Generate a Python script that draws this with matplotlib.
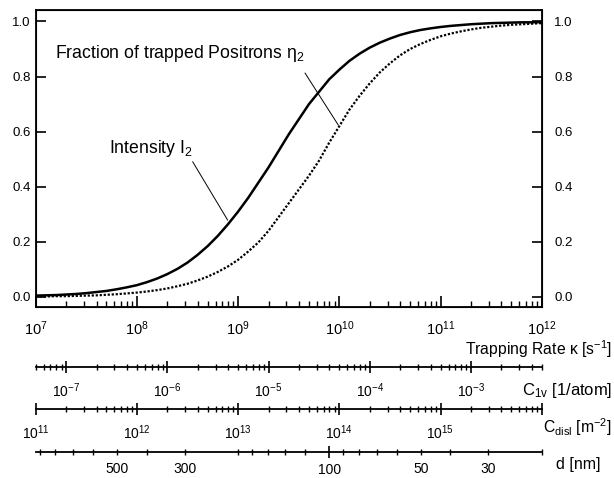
import matplotlib
matplotlib.use("Agg")
import matplotlib.pyplot as plt
import numpy as np
from matplotlib.ticker import FixedLocator, LogLocator, NullFormatter, FixedFormatter

plt.rcParams['font.family'] = ['Liberation Sans', 'DejaVu Sans']
plt.rcParams['mathtext.fontset'] = 'custom'
plt.rcParams['mathtext.rm'] = 'Liberation Sans'
plt.rcParams['mathtext.it'] = 'Liberation Sans:italic'

# log10 of trapping rate kappa [1/s]
log_kappa = [7.0, 7.1, 7.2, 7.3, 7.4, 7.5, 7.6, 7.7, 7.8, 7.9,
             8.0, 8.1, 8.2, 8.3, 8.4, 8.5, 8.6, 8.7, 8.8, 8.9,
             9.0, 9.1, 9.2, 9.3, 9.4, 9.5, 9.6, 9.7, 9.8, 9.9,
             10.0, 10.1, 10.2, 10.3, 10.4, 10.5, 10.6, 10.7, 10.8, 10.9,
             11.0, 11.1, 11.2, 11.3, 11.4, 11.5, 11.6, 11.7, 11.8, 11.9, 12.0]
# intensity I2 (solid)
intensity = [0.005, 0.006, 0.007, 0.009, 0.011, 0.014, 0.018, 0.022, 0.028, 0.035,
             0.043, 0.054, 0.067, 0.083, 0.102, 0.125, 0.153, 0.185, 0.222, 0.264,
             0.31, 0.36, 0.415, 0.47, 0.53, 0.59, 0.645, 0.70, 0.745, 0.79,
             0.825, 0.857, 0.883, 0.905, 0.923, 0.938, 0.951, 0.961, 0.969, 0.975,
             0.980, 0.984, 0.987, 0.990, 0.992, 0.994, 0.995, 0.996, 0.997, 0.997, 0.998]
# fraction of trapped positrons eta2 (dotted)
fraction = [0.002, 0.002, 0.003, 0.003, 0.004, 0.005, 0.006, 0.008, 0.010, 0.013,
            0.016, 0.020, 0.025, 0.031, 0.039, 0.048, 0.060, 0.074, 0.091, 0.111,
            0.135, 0.165, 0.198, 0.240, 0.29, 0.34, 0.39, 0.44, 0.495, 0.56,
            0.62, 0.68, 0.73, 0.775, 0.815, 0.848, 0.877, 0.90, 0.918, 0.933,
            0.946, 0.956, 0.964, 0.971, 0.977, 0.981, 0.985, 0.988, 0.990, 0.992, 0.994]

kappa_ticks = [1e7, 1e8, 1e9, 1e10, 1e11, 1e12]
kappa_labels = ['$10^{7}$', '$10^{8}$', '$10^{9}$', '$10^{10}$', '$10^{11}$', '$10^{12}$']
y_ticks = [0.0, 0.2, 0.4, 0.6, 0.8, 1.0]

c1v_range = (5e-8, 5e-3)
c1v_ticks = [1e-7, 1e-6, 1e-5, 1e-4, 1e-3]
c1v_labels = ['$10^{-7}$', '$10^{-6}$', '$10^{-5}$', '$10^{-4}$', '$10^{-3}$']

cdisl_range = (1e11, 1e16)
cdisl_ticks = [1e11, 1e12, 1e13, 1e14, 1e15, 1e16]
cdisl_labels = ['$10^{11}$', '$10^{12}$', '$10^{13}$', '$10^{14}$', '$10^{15}$', '']

d_range = (928.4, 20.0)  # nm, d = 20 nm at kappa = 1e12, scales as kappa^(-1/3)
d_major = [100]
d_minor = [900, 800, 700, 600, 500, 400, 300, 200, 180, 160, 140, 120,
           90, 80, 70, 60, 50, 40, 30, 20]
d_labeled = [500, 300, 50, 30]

W, H = 614, 478
fig = plt.figure(figsize=(W / 100, H / 100), dpi=100)

x0, x1 = 35.7, 541.7
ax = fig.add_axes([x0 / W, 1 - 307.3 / H, (x1 - x0) / W, (307.3 - 10) / H])
k = 10 ** np.array(log_kappa)
ax.plot(k, intensity, color='black', lw=1.8, solid_capstyle='butt')
ax.plot(k, fraction, color='black', lw=1.6, ls=(0, (1, 0.8)))
ax.set_xscale('log')
ax.set_xlim(1e7, 1e12)
ax.set_ylim(-0.0374, 1.0417)
for s in ax.spines.values():
    s.set_linewidth(1.3)

ax.set_yticks(y_ticks)
ax.set_yticklabels(['%.1f' % v for v in y_ticks])
ax.tick_params(axis='y', direction='in', length=7, width=1.2, labelsize=9.5, pad=3.5)
ax.xaxis.set_major_locator(FixedLocator(kappa_ticks))
ax.xaxis.set_major_formatter(FixedFormatter(kappa_labels))
ax.xaxis.set_minor_locator(LogLocator(base=10, subs=np.arange(2, 10), numticks=20))
ax.xaxis.set_minor_formatter(NullFormatter())
ax.tick_params(axis='x', which='major', direction='in', length=8, width=1.2,
               labelsize=10.5, pad=9)
ax.tick_params(axis='x', which='minor', direction='in', length=4, width=1.0)

# right-hand copy of the y scale
ax_r = ax.twinx()
ax_r.set_ylim(ax.get_ylim())
ax_r.set_yticks(y_ticks)
ax_r.set_yticklabels(['%.1f' % v for v in y_ticks])
ax_r.tick_params(axis='y', direction='in', length=7, width=1.2, labelsize=9.5, pad=9)

ax.text(10 ** 7.19, 0.866, r'Fraction of trapped Positrons η$_2$', fontsize=12.7)
ax.text(10 ** 7.727, 0.522, r'Intensity I$_2$', fontsize=12.7)
ax.annotate('', xy=(10 ** 9.99, 0.624), xytext=(10 ** 9.661, 0.813),
            arrowprops=dict(arrowstyle='-', lw=0.7, color='black', shrinkA=0, shrinkB=0))
ax.annotate('', xy=(10 ** 8.897, 0.279), xytext=(10 ** 8.551, 0.491),
            arrowprops=dict(arrowstyle='-', lw=0.7, color='black', shrinkA=0, shrinkB=0))

fig.text(612.5 / W, 1 - 349 / H, r'Trapping Rate κ [s$^{-1}$]', ha='right', va='center',
         fontsize=11.3)


def scale_axis(y_px, lim, major, labels, minor=None):
    a = fig.add_axes([x0 / W, 1 - y_px / H, (x1 - x0) / W, 0.0001])
    a.set_xscale('log')
    a.set_xlim(*lim)
    a.set_yticks([])
    for side in ['left', 'right', 'top']:
        a.spines[side].set_visible(False)
    a.spines['bottom'].set_linewidth(1.3)
    a.patch.set_visible(False)
    a.xaxis.set_major_locator(FixedLocator(major))
    a.xaxis.set_major_formatter(FixedFormatter(labels))
    if minor is None:
        a.xaxis.set_minor_locator(LogLocator(base=10, subs=np.arange(2, 10), numticks=20))
    else:
        a.xaxis.set_minor_locator(FixedLocator(minor))
    a.xaxis.set_minor_formatter(NullFormatter())
    a.tick_params(axis='x', which='major', direction='inout', length=9, width=1.2,
                  labelsize=10, pad=6)
    a.tick_params(axis='x', which='minor', direction='inout', length=5, width=1.0)
    return a


scale_axis(367, c1v_range, c1v_ticks, c1v_labels)
fig.text(612 / W, 1 - 390 / H, r'C$_{\rm 1v}$ [1/atom]', ha='right', va='center', fontsize=12)

scale_axis(408.5, cdisl_range, cdisl_ticks, cdisl_labels)
fig.text(612 / W, 1 - 427 / H, r'C$_{\rm disl}$ [m$^{-2}$]', ha='right', va='center', fontsize=11.3)

ad = scale_axis(451.5, d_range, d_major, ['100'], minor=d_minor)
ad.xaxis.set_minor_formatter(FixedFormatter([str(v) if v in d_labeled else '' for v in d_minor]))
ad.tick_params(axis='x', which='minor', labelsize=10, pad=5)
ad.tick_params(axis='x', which='major', pad=3.5)
fig.text(600 / W, 1 - 465 / H, 'd [nm]', ha='right', va='center', fontsize=11.5)

fig.savefig('out.png', dpi=100)
